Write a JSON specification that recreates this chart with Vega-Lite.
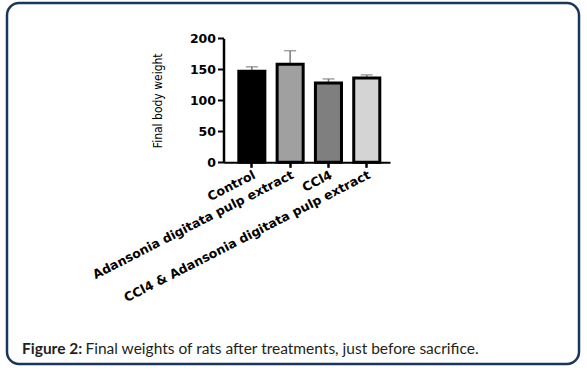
{
  "$schema": "https://vega.github.io/schema/vega-lite/v6.json",
  "width": 572,
  "height": 361,
  "autosize": {"type": "none"},
  "padding": {"left": 7, "top": 3, "right": 8, "bottom": 11},
  "background": "white",
  "config": {
    "view": {"stroke": "#1B365D", "strokeWidth": 2.5, "cornerRadius": 12, "fill": "white"},
    "axis": {"grid": false}
  },
  "title": {
    "text": "Figure 2:",
    "subtitle": "\u200b\u00a0\u00a0\u00a0\u00a0\u00a0\u00a0\u00a0\u00a0\u00a0\u00a0\u00a0\u00a0\u00a0\u00a0\u00a0\u00a0Final weights of rats after treatments, just before sacrifice.",
    "orient": "bottom",
    "anchor": "start",
    "frame": "group",
    "offset": -22,
    "dx": 15,
    "font": "Lato",
    "fontSize": 15.5,
    "fontWeight": "bold",
    "color": "#231f20",
    "subtitleFont": "Lato",
    "subtitleFontSize": 15.5,
    "subtitleFontWeight": "normal",
    "subtitleColor": "#231f20",
    "subtitlePadding": -15.5
  },
  "data": {
    "values": [
      {"group": "Control", "value": 147, "upper": 154},
      {"group": "Adansonia digitata pulp extract", "value": 158, "upper": 180},
      {"group": "CCl4", "value": 128, "upper": 134.5},
      {"group": "CCl4 & Adansonia digitata pulp extract", "value": 136, "upper": 141}
    ]
  },
  "encoding": {
    "x": {
      "field": "group",
      "type": "nominal",
      "sort": null,
      "scale": {"range": [216.5, 383], "paddingInner": 0.32, "paddingOuter": 0.333, "align": 0.6},
      "axis": {
        "title": null,
        "offset": -201.7,
        "domainColor": "black",
        "domainWidth": 2,
        "tickColor": "black",
        "tickWidth": 2.5,
        "tickSize": 5,
        "labelAngle": -27,
        "labelAlign": "right",
        "labelBaseline": "top",
        "labelFont": "DejaVu Sans",
        "labelFontWeight": "bold",
        "labelFontSize": 12.5,
        "labelColor": "black",
        "labelOverlap": false,
        "labelLimit": 400,
        "labelPadding": 1
      }
    }
  },
  "layer": [
    {
      "mark": {"type": "rule", "color": "#7a7a7a", "strokeWidth": 1.5},
      "encoding": {
        "y": {"field": "value", "type": "quantitative"},
        "y2": {"field": "upper"}
      }
    },
    {
      "mark": {"type": "tick", "color": "#7a7a7a", "thickness": 1.5, "size": 12, "orient": "horizontal"},
      "encoding": {
        "y": {"field": "upper", "type": "quantitative"}
      }
    },
    {
      "mark": {"type": "bar", "stroke": "black", "strokeWidth": 3},
      "encoding": {
        "y": {
          "field": "value",
          "type": "quantitative",
          "scale": {"domain": [0, 200], "range": [159.3, 35.3], "nice": false},
          "axis": {
            "values": [0, 50, 100, 150, 200],
            "offset": -216.5,
            "domainColor": "black",
            "domainWidth": 2.5,
            "tickColor": "black",
            "tickWidth": 2,
            "tickSize": 6,
            "labelFont": "DejaVu Sans",
            "labelFontWeight": "bold",
            "labelFontSize": 12.5,
            "labelColor": "black",
            "labelPadding": 2,
            "title": "Final body weight",
            "titleFont": "DejaVu Sans Condensed, Liberation Sans, sans-serif",
            "titleFontSize": 12,
            "titleFontWeight": "normal",
            "titleColor": "black",
            "titlePadding": 25
          }
        },
        "fill": {
          "field": "group",
          "type": "nominal",
          "scale": {
            "domain": ["Control", "Adansonia digitata pulp extract", "CCl4", "CCl4 & Adansonia digitata pulp extract"],
            "range": ["#000000", "#a0a0a0", "#7f7f7f", "#d4d4d4"]
          },
          "legend": null
        }
      }
    }
  ]
}
